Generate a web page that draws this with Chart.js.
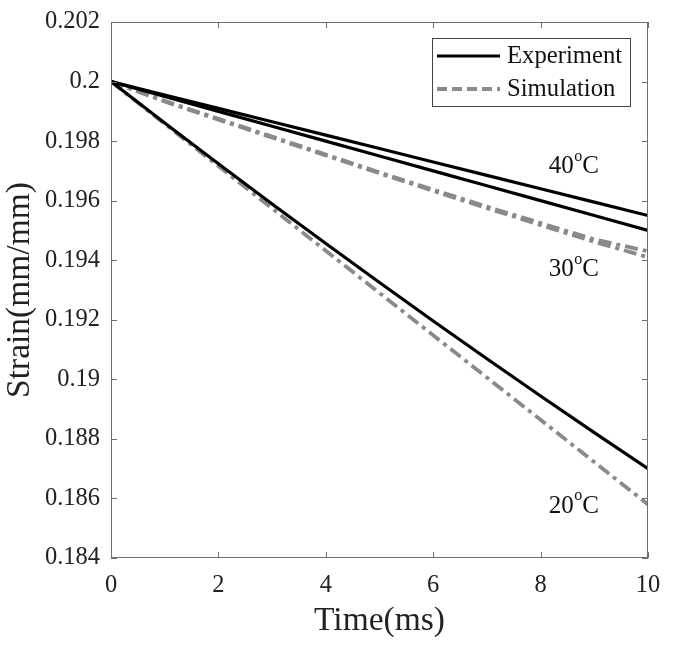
<!DOCTYPE html>
<html>
<head>
<meta charset="utf-8">
<script src="https://cdn.jsdelivr.net/npm/chart.js@4.4.1/dist/chart.umd.min.js"></script>
<style>
html,body{margin:0;padding:0;background:#fff;}
#wrap{width:677px;height:649px;}
</style>
</head>
<body>
<div id="wrap"><canvas id="c" width="677" height="649"></canvas></div>
<script>
const time = [0,1,2,3,4,5,6,7,8,9,10];
const exp40 = [0.2,0.19955,0.1991,0.19865,0.1982,0.19775,0.1973,0.19685,0.1964,0.19595,0.1955];
const exp30 = [0.2,0.1995,0.199,0.1985,0.198,0.1975,0.197,0.1965,0.196,0.1955,0.195];
const exp20 = [0.2,0.19861,0.19724,0.19589,0.19456,0.19325,0.19196,0.19069,0.18944,0.18821,0.187];
const sim40 = [0.2,0.19935,0.19875,0.19815,0.19755,0.19695,0.19637,0.1958,0.19525,0.1947,0.1943];
const sim30 = [0.2,0.19933,0.19872,0.19812,0.19752,0.19692,0.19633,0.19575,0.19518,0.19462,0.1941];
const sim20 = [0.2,0.19858,0.19716,0.19574,0.19432,0.1929,0.19148,0.19006,0.18864,0.18722,0.1858];
const legendLabels = ['Experiment','Simulation'];
const tempLabels = [
  {t:'40', x:8.15, y:0.19721},
  {t:'30', x:8.15, y:0.19376},
  {t:'20', x:8.15, y:0.18581}
];
const xTitle = 'Time(ms)';
const yTitle = 'Strain(mm/mm)';

const BLACK = '#000000';
const GRAY = '#8a8a8a';
const AXIS = '#6e6e6e';
const FONT = '"Liberation Serif", "Times New Roman", serif';

function pts(ys){ return time.map((t,i)=>({x:t,y:ys[i]})); }
function expDs(ys){ return {data:pts(ys), borderColor:BLACK, borderWidth:3.2, pointRadius:0, tension:0, fill:false, order:1}; }
function simDs(ys){ return {data:pts(ys), borderColor:GRAY, borderWidth:3.8, borderDash:[13,5,4,5], pointRadius:0, tension:0, fill:false, order:2}; }

const decor = {
  id:'decor',
  afterDraw(chart){
    const ctx = chart.ctx, a = chart.chartArea;
    const xs = chart.scales.x, ys = chart.scales.y;
    ctx.save();
    ctx.strokeStyle = AXIS; ctx.lineWidth = 1;
    ctx.strokeRect(a.left+0.5, a.top+0.5, a.right-a.left-1, a.bottom-a.top-1);
    const tl = 6;
    ctx.beginPath();
    xs.ticks.forEach(t=>{
      const px = Math.round(xs.getPixelForValue(t.value))+0.5;
      ctx.moveTo(px, a.bottom); ctx.lineTo(px, a.bottom-tl);
      ctx.moveTo(px, a.top); ctx.lineTo(px, a.top+tl);
    });
    ys.ticks.forEach(t=>{
      const py = Math.round(ys.getPixelForValue(t.value))+0.5;
      ctx.moveTo(a.left, py); ctx.lineTo(a.left+tl, py);
      ctx.moveTo(a.right, py); ctx.lineTo(a.right-tl, py);
    });
    ctx.stroke();
    ctx.fillStyle = '#111';
    ctx.textBaseline = 'middle';
    tempLabels.forEach(l=>{
      let px = xs.getPixelForValue(l.x), py = ys.getPixelForValue(l.y);
      ctx.font = '25px ' + FONT;
      ctx.fillText(l.t, px, py+2);
      px += ctx.measureText(l.t).width;
      ctx.font = '16px ' + FONT;
      ctx.fillText('o', px+0.5, py-8);
      px += ctx.measureText('o').width+0.5;
      ctx.font = '25px ' + FONT;
      ctx.fillText('C', px, py+2);
    });
    const lx = 432, ly = 38, lw = 198, lh = 68;
    ctx.fillStyle = '#fff';
    ctx.fillRect(lx, ly, lw, lh);
    ctx.strokeStyle = '#444'; ctx.lineWidth = 1;
    ctx.strokeRect(lx+0.5, ly+0.5, lw, lh);
    const rows = [{c:BLACK,w:3.2,d:[]},{c:GRAY,w:3.8,d:[10,5]}];
    rows.forEach((r,i)=>{
      const yy = ly + 18 + i*33;
      ctx.beginPath();
      ctx.strokeStyle = r.c; ctx.lineWidth = r.w; ctx.setLineDash(r.d);
      ctx.moveTo(lx+5, yy); ctx.lineTo(lx+68, yy); ctx.stroke();
      ctx.setLineDash([]);
      ctx.fillStyle = '#111';
      ctx.font = '24.7px ' + FONT;
      ctx.textBaseline = 'middle';
      ctx.fillText(legendLabels[i], lx+75, yy+1);
    });
    ctx.restore();
  }
};

new Chart(document.getElementById('c'), {
  type:'line',
  data:{ datasets:[ expDs(exp40), expDs(exp30), expDs(exp20), simDs(sim40), simDs(sim30), simDs(sim20) ] },
  options:{
    responsive:false, animation:false,
    layout:{padding:{top:22, right:29, left:0, bottom:0}},
    plugins:{legend:{display:false}, tooltip:{enabled:false}},
    scales:{
      x:{
        type:'linear', min:0, max:10,
        ticks:{stepSize:2, color:'#222', font:{family:FONT, size:24.5}, padding:13, maxRotation:0},
        grid:{display:true, drawOnChartArea:false, drawTicks:false},
        border:{display:false},
        title:{display:true, text:xTitle, color:'#222', font:{family:FONT, size:33.5}, padding:8},
        afterFit(s){ s.height = 91; }
      },
      y:{
        type:'linear', min:0.184, max:0.202,
        ticks:{stepSize:0.002, color:'#222', font:{family:FONT, size:24.5, lineHeight:1}, padding:11,
          callback:v=>String(Number(v.toFixed(3)))},
        grid:{display:true, drawOnChartArea:false, drawTicks:false},
        border:{display:false},
        title:{display:true, text:yTitle, color:'#222', font:{family:FONT, size:33.5}, padding:{top:0,bottom:4}},
        afterFit(s){ s.width = 111; s.paddingTop = 0; s.paddingBottom = 0; }
      }
    }
  },
  plugins:[decor]
});
</script>
</body>
</html>
